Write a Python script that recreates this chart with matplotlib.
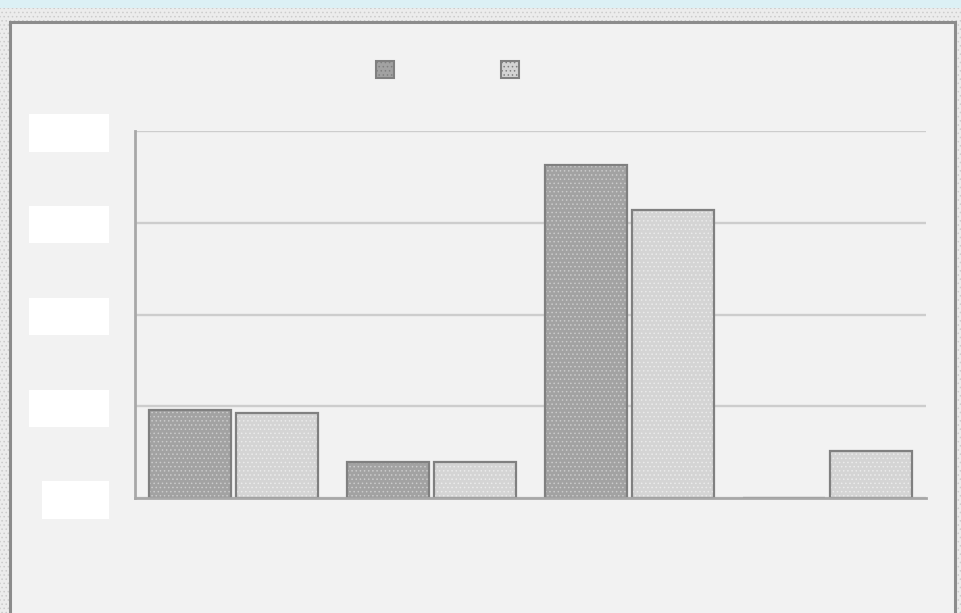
import matplotlib
matplotlib.use("Agg")
import matplotlib.pyplot as plt
import matplotlib.patches as mpatches
import numpy as np

plt.rcParams['font.family'] = ['DejaVu Sans']
plt.rcParams['hatch.linewidth'] = 0.6

# ---- data ----
categories = ["A", "B", "C", "D"]
series1 = [48, 19.5, 181.5, 0]
series2 = [46.5, 19.5, 157, 25.5]
yticks = [0, 50, 100, 150, 200]
ytick_labels = ["\u2007" * 4, "\u2007" * 5, "\u2007" * 5, "\u2007" * 5, "\u2007" * 5]

fig = plt.figure(figsize=(9.61, 6.13), dpi=100)
fig.patch.set_facecolor('#e4e4e4')

# dotted outer background
bg = mpatches.Rectangle((0, 0), 1, 1, transform=fig.transFigure, facecolor='#ececec',
                        edgecolor='#cccccc', hatch='....', linewidth=0, zorder=-3)
fig.patches.append(bg)
band = mpatches.Rectangle((0, 1 - 8 / 613), 1, 8 / 613, transform=fig.transFigure,
                          facecolor='#dcf0f5', edgecolor='none', zorder=-2)
fig.patches.append(band)
frame = mpatches.Rectangle((10 / 961, -0.01), 945 / 961, (613 - 22) / 613 + 0.01,
                           transform=fig.transFigure, facecolor='#f2f2f2',
                           edgecolor='#8c8c8c', linewidth=2.2, zorder=-1)
fig.patches.append(frame)

ax = fig.add_axes([135 / 961, 1 - 498 / 613, 791 / 961, (498 - 131) / 613])
ax.set_facecolor('none')

x = np.arange(len(categories))
w = 0.415
off = 0.22

fill1, hatch1 = '#a2a2a2', '#cbcbcb'
fill2, hatch2 = '#d4d4d4', '#ebebeb'
edge = '#808080'

ax.bar(x - off, series1, w, color=fill1, hatch='....', edgecolor=hatch1, linewidth=0, zorder=2)
ax.bar(x - off, series1, w, fill=False, edgecolor=edge, linewidth=1.6, zorder=3)
ax.bar(x + off, series2, w, color=fill2, hatch='....', edgecolor=hatch2, linewidth=0, zorder=2)
ax.bar(x + off, series2, w, fill=False, edgecolor=edge, linewidth=1.6, zorder=3)

ax.set_xlim(-0.5, len(categories) - 0.5)
ax.set_ylim(0, 200)
ax.set_yticks(yticks)
ax.set_yticklabels(ytick_labels, fontsize=14)
for lbl in ax.get_yticklabels():
    lbl.set_bbox(dict(boxstyle='square,pad=0.47', facecolor='white', edgecolor='none'))
ax.tick_params(axis='y', length=0, pad=25)
ax.set_xticks([])

ax.yaxis.grid(True, color='#cdcdcd', linewidth=1.7, zorder=0)
ax.set_axisbelow(True)
for s in ['top', 'right']:
    ax.spines[s].set_visible(False)
for s in ['left', 'bottom']:
    ax.spines[s].set_color('#a8a8a8')
    ax.spines[s].set_linewidth(2)
ax.spines['left'].set_zorder(4)
ax.spines['bottom'].set_zorder(4)

h1 = mpatches.Patch(facecolor=fill1, edgecolor=edge, hatch='....', linewidth=1.5)
h2 = mpatches.Patch(facecolor=fill2, edgecolor=edge, hatch='....', linewidth=1.5)
fig.legend([h1, h2], ["", ""], loc='center', bbox_to_anchor=(447.5 / 961, 1 - 69.5 / 613),
           ncol=2, frameon=False, fontsize=10, handlelength=1.3, handleheight=1.45,
           handletextpad=0, columnspacing=7.7)

fig.savefig('out.png', dpi=100, facecolor=fig.get_facecolor())
